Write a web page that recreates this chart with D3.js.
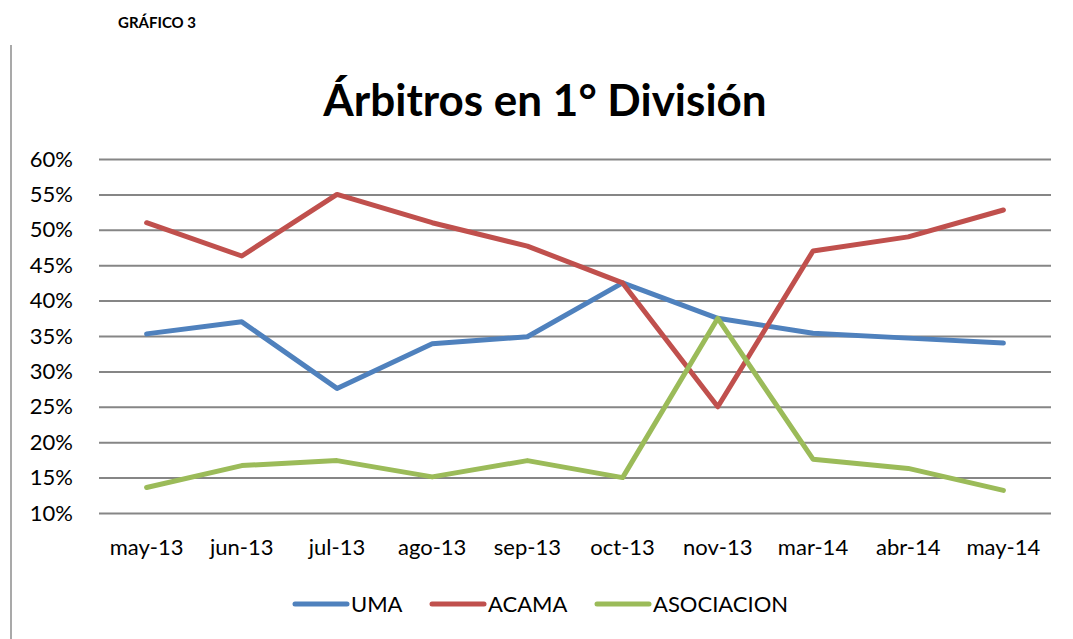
<!DOCTYPE html>
<html>
<head>
<meta charset="utf-8">
<script src="https://cdn.jsdelivr.net/npm/d3@7"></script>
<style>
  body { margin: 0; background: #fff; }
  svg { display: block; font-family: Lato, 'Open Sans', sans-serif; }
</style>
</head>
<body>
<div id="chart"></div>
<script>
const months = ['may-13', 'jun-13', 'jul-13', 'ago-13', 'sep-13', 'oct-13', 'nov-13', 'mar-14', 'abr-14', 'may-14'];
const uma = [35.3, 37.0, 27.6, 33.9, 34.9, 42.5, 37.5, 35.4, 34.7, 34.0];
const acama = [51.0, 46.3, 55.0, 51.0, 47.7, 42.5, 25.0, 47.0, 49.0, 52.8];
const asociacion = [13.6, 16.7, 17.4, 15.1, 17.4, 15.0, 37.5, 17.6, 16.3, 13.2];
const yTicks = [10, 15, 20, 25, 30, 35, 40, 45, 50, 55, 60];

const series = [
  { name: 'UMA', values: uma, color: '#4f81bd' },
  { name: 'ACAMA', values: acama, color: '#c0504d' },
  { name: 'ASOCIACION', values: asociacion, color: '#9bbb59' },
];

const W = 1073, H = 639;
const margin = { top: 159, right: 22, bottom: 126, left: 99 };
const width = W - margin.left - margin.right;
const height = H - margin.top - margin.bottom;

const svg = d3.select('#chart').append('svg')
  .attr('width', W)
  .attr('height', H);

// header + page border line
svg.append('text')
  .attr('x', 118).attr('y', 28)
  .style('font-size', '15px')
  .style('font-weight', 'bold')
  .text('GRÁFICO 3');

svg.append('line')
  .attr('x1', 11).attr('x2', 11)
  .attr('y1', 45).attr('y2', H)
  .attr('stroke', '#8c8c8c')
  .attr('stroke-width', 1.5);

svg.append('text')
  .attr('x', 545).attr('y', 116)
  .attr('text-anchor', 'middle')
  .style('font-size', '44px')
  .style('font-weight', 'bold')
  .text('Árbitros en 1° División');

const g = svg.append('g')
  .attr('transform', `translate(${margin.left},${margin.top})`);

const x = d3.scaleBand()
  .domain(months)
  .range([0, width]);

const y = d3.scaleLinear()
  .domain([10, 60])
  .range([height, 0]);

// gridlines
g.append('g')
  .call(d3.axisLeft(y).tickValues(yTicks).tickSize(-width).tickFormat(''))
  .call((a) => a.select('.domain').remove())
  .call((a) => a.selectAll('line').attr('stroke', '#868686').attr('stroke-width', 2));

// y labels
g.append('g')
  .call(d3.axisLeft(y).tickValues(yTicks).tickSize(0).tickPadding(26).tickFormat((d) => d + '%'))
  .call((a) => a.select('.domain').remove())
  .selectAll('text')
  .style('font-family', 'Lato, sans-serif')
  .style('font-size', '22px')
  .attr('fill', '#000');

// x labels
g.append('g')
  .attr('transform', `translate(0,${height})`)
  .call(d3.axisBottom(x).tickSize(0).tickPadding(26))
  .call((a) => a.select('.domain').remove())
  .selectAll('text')
  .style('font-family', 'Lato, sans-serif')
  .style('font-size', '22px')
  .attr('fill', '#000');

const line = d3.line()
  .x((d, i) => x(months[i]) + x.bandwidth() / 2)
  .y((d) => y(d));

g.selectAll('.series')
  .data(series)
  .enter().append('path')
  .attr('class', 'series')
  .attr('fill', 'none')
  .attr('stroke', (d) => d.color)
  .attr('stroke-width', 5)
  .attr('stroke-linejoin', 'round')
  .attr('stroke-linecap', 'round')
  .attr('d', (d) => line(d.values));

// legend
const legendX = [295, 432, 597];
const legend = svg.append('g').attr('transform', 'translate(0,604)');
series.forEach((s, i) => {
  const row = legend.append('g').attr('transform', `translate(${legendX[i]},0)`);
  row.append('line')
    .attr('x1', 0).attr('x2', 52)
    .attr('stroke', s.color)
    .attr('stroke-width', 5)
    .attr('stroke-linecap', 'round');
  row.append('text')
    .attr('x', 56).attr('y', 8)
    .style('font-size', '22px')
    .text(s.name);
});
</script>
</body>
</html>
